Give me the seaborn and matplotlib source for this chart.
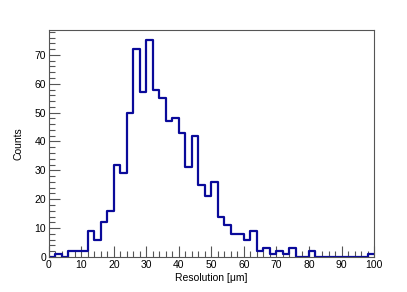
import matplotlib
matplotlib.use("Agg")
import matplotlib.pyplot as plt
from matplotlib.ticker import MultipleLocator
import numpy as np
import pandas as pd
import seaborn as sns

# Bin edges (2 um wide) and counts
bin_edges = np.arange(0, 102, 2)
counts = [0, 1, 0, 2, 2, 2, 9, 6, 12, 16,
          32, 29, 50, 72, 57, 75, 58, 55, 47, 48,
          43, 31, 42, 25, 21, 26, 14, 11, 8, 8,
          6, 9, 2, 3, 1, 2, 1, 3, 0, 0,
          2, 0, 0, 0, 0, 0, 0, 0, 0, 1]
bin_centers = (bin_edges[:-1] + bin_edges[1:]) / 2

hist_df = pd.DataFrame({'resolution': bin_centers, 'counts': counts})

sns.set_style("white")
plt.rcParams['font.family'] = ['Liberation Sans', 'DejaVu Sans']

fig = plt.figure(figsize=(4.07, 2.92), dpi=100)
ax = fig.add_axes([0.12, 0.12, 0.799, 0.777])

sns.histplot(data=hist_df, x='resolution', weights='counts', binwidth=2,
             binrange=(0, 100), element='step', fill=False,
             color='#0a0a9a', linewidth=1.6, ax=ax)

ax.set_xlim(0, 100)
ax.set_ylim(0, 78.6)
ax.xaxis.set_major_locator(MultipleLocator(10))
ax.xaxis.set_minor_locator(MultipleLocator(2))
ax.yaxis.set_major_locator(MultipleLocator(10))
ax.yaxis.set_minor_locator(MultipleLocator(2))
ax.tick_params(which='both', direction='in', bottom=True, left=True,
               top=False, right=False, labelsize=7.5, color='#555555',
               labelcolor='black', width=0.8, pad=2)
ax.tick_params(which='major', length=8)
ax.tick_params(which='minor', length=4)
for s in ax.spines.values():
    s.set_color('#555555')
    s.set_linewidth(0.8)

ax.set_xlabel('Resolution [μm]', fontsize=7.5, labelpad=2, color='black')
ax.set_ylabel('Counts', fontsize=7.5, labelpad=8, color='black')

fig.savefig('out.png', dpi=100)
